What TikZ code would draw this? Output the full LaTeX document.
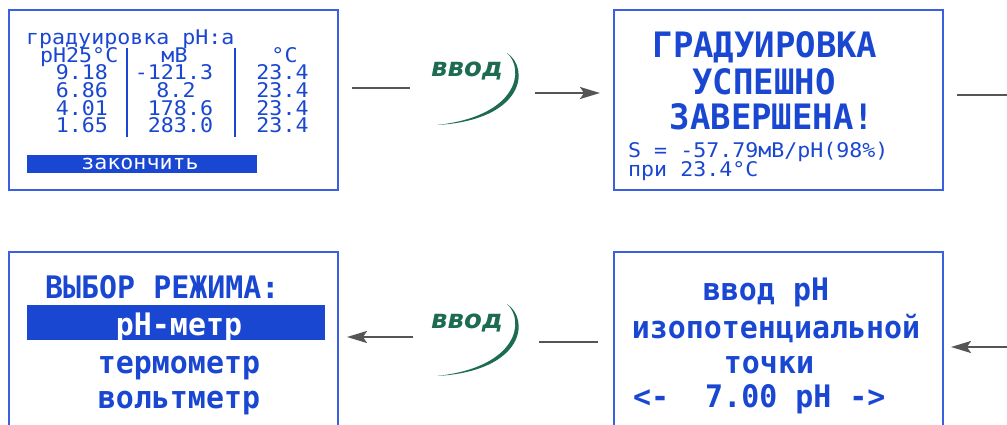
\documentclass[tikz,border=0pt]{standalone}
\usepackage{fontspec}
\setmainfont{DejaVu Sans}
\newfontfamily\lcdfont[FakeStretch=1.07]{DejaVu Sans Mono}
\newfontfamily\lcdwideA[FakeStretch=0.97]{DejaVu Sans Mono}
\newfontfamily\lcdwideB[FakeStretch=0.965]{DejaVu Sans Mono}
\newfontfamily\vvodfont{DejaVu Sans}
\usetikzlibrary{arrows.meta}
\definecolor{lcdblue}{HTML}{1A47D2}
\definecolor{frameblue}{HTML}{3A5FE3}
\definecolor{conngray}{HTML}{555555}
\definecolor{vvodgreen}{HTML}{1D6B50}
\begin{document}
\begin{tikzpicture}[x=1pt,y=-1pt,
  screen/.style={draw=frameblue, line width=2pt, minimum width=329pt, minimum height=180pt, inner sep=0pt, fill=white},
  small/.style={font=\lcdfont\fontsize{20.2}{20.2}\selectfont, text=lcdblue, inner sep=0pt},
  bigA/.style={font=\lcdwideA\bfseries\fontsize{35}{35}\selectfont, text=lcdblue, inner sep=0pt},
  bigB/.style={font=\lcdwideB\bfseries\fontsize{31}{31}\selectfont, text=lcdblue, inner sep=0pt},
  bar/.style={fill=lcdblue, draw=none, inner sep=0pt},
  sepline/.style={draw=lcdblue, line width=1.6pt},
  conn/.style={draw=conngray, line width=2pt},
  arr/.style={conn, -{Stealth[length=20pt,width=12pt,inset=4pt]}},
  vvod/.style={font=\vvodfont\bfseries\itshape\fontsize{26}{26}\selectfont, text=vvodgreen, inner sep=0pt},
  crescent/.style={fill=vvodgreen, draw=none}
]
\useasboundingbox (0,0) rectangle (1007,425);
\clip (0,0) rectangle (1007,425);

% screens
\node[screen] (s1) at (173.5,100) {};
\node[screen] (s2) at (778.5,100) {};
\node[screen] (s3) at (173.5,342) {};
\node[screen] (s4) at (778.5,342) {};

% screen 1
\node[small, anchor=base west] (t1) at (26,45) {градуировка pH:a};
\node[small, anchor=base west] (h1) at (40,63) {pH25°C};
\node[small, anchor=base] (h2) at (174.5,63) {мВ};
\node[small, anchor=base] (h3) at (284.5,63) {°C};
\draw[sepline] (127,48) -- (127,137);
\draw[sepline] (235,48) -- (235,137);
\node[small, anchor=base east] (r1a) at (108,80) {9.18};
\node[small, anchor=base east] (r2a) at (108,97.7) {6.86};
\node[small, anchor=base east] (r3a) at (108,115.4) {4.01};
\node[small, anchor=base east] (r4a) at (108,133) {1.65};
\node[small, anchor=base] (r1b) at (174,80) {-121.3};
\node[small, anchor=base] (r2b) at (176,97.7) {8.2};
\node[small, anchor=base] (r3b) at (180.5,115.4) {178.6};
\node[small, anchor=base] (r4b) at (180.5,133) {283.0};
\node[small, anchor=base] (r1c) at (282.5,80) {23.4};
\node[small, anchor=base] (r2c) at (282.5,97.7) {23.4};
\node[small, anchor=base] (r3c) at (282.5,115.4) {23.4};
\node[small, anchor=base] (r4c) at (282.5,133) {23.4};
\node[bar, minimum width=230pt, minimum height=18pt] (bar1) at (142,164) {};
\node[small, text=white, anchor=base] (fin) at (140,170) {закончить};

% screen 2
\node[bigA, anchor=base] (g1) at (765,58) {ГРАДУИРОВКА};
\node[bigA, anchor=base] (g2) at (764,95) {УСПЕШНО};
\node[bigA, anchor=base] (g3) at (772,130) {ЗАВЕРШЕНА!};
\node[small, anchor=base west] (g4) at (628,158) {S = -57.79мВ/pH(98\%)};
\node[small, anchor=base west] (g5) at (628,177) {при 23.4°C};

% screen 3
\node[bigB, anchor=base west] (m1) at (45,298) {ВЫБОР РЕЖИМА:};
\node[bar, minimum width=298pt, minimum height=35pt] (bar3) at (176,322.5) {};
\node[bigB, text=white, anchor=base] (m2) at (179,335) {pH-метр};
\node[bigB, anchor=base] (m3) at (179,373) {термометр};
\node[bigB, anchor=base] (m4) at (179,408) {вольтметр};

% screen 4
\node[bigB, anchor=base] (p1) at (766,300) {ввод pH};
\node[bigB, anchor=base] (p2) at (776,338) {изопотенциальной};
\node[bigB, anchor=base] (p3) at (769,373) {точки};
\node[bigB, anchor=base west] (p4) at (633,407) {<-~ 7.00 pH ->};

% "ввод" buttons
\node[vvod, anchor=base] (v1) at (467,77) {ввод};
\node[vvod, anchor=base] (v2) at (467,328) {ввод};
\foreach \v in {v1,v2}{
  \begin{scope}[shift={(\v.base)}]
    \fill[crescent] (40,-24) .. controls (63,-9) and (58,43) .. (-30,48)
                   .. controls (52,39) and (58,-8) .. (40,-24) -- cycle;
  \end{scope}
}

% connectors
\coordinate (c1a) at (352,88);
\coordinate (c1b) at (410,88);
\coordinate (c2a) at (535,93);
\coordinate (c2b) at (600,93);
\coordinate (c3a) at (957,95);
\coordinate (c3b) at (1010,95);
\coordinate (c4a) at (1010,347);
\coordinate (c4b) at (951,347);
\coordinate (c5a) at (598,342);
\coordinate (c5b) at (539,342);
\coordinate (c6a) at (413,337);
\coordinate (c6b) at (347,337);
\draw[conn] (c1a) -- (c1b);
\draw[arr] (c2a) -- (c2b);
\draw[conn] (c3a) -- (c3b);
\draw[arr] (c4a) -- (c4b);
\draw[conn] (c5a) -- (c5b);
\draw[arr] (c6a) -- (c6b);
\end{tikzpicture}
\end{document}
